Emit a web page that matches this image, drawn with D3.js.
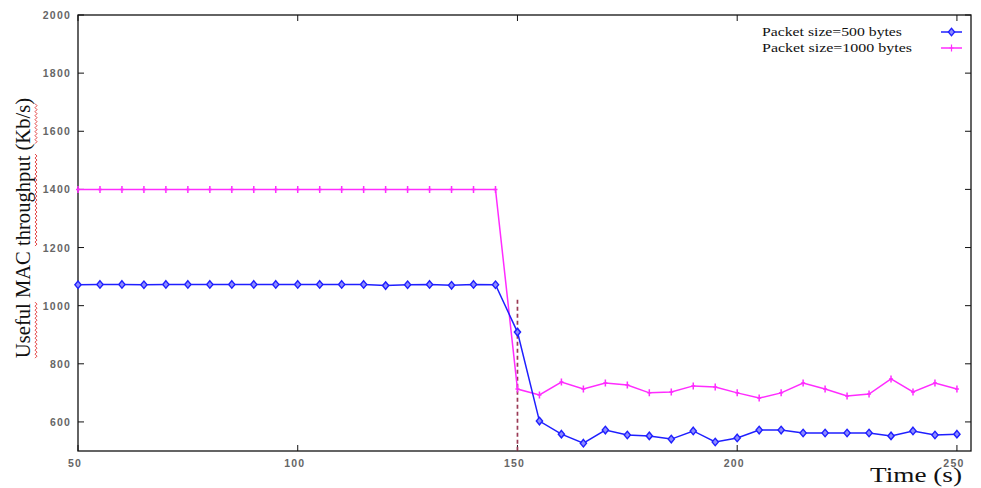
<!DOCTYPE html>
<html>
<head>
<meta charset="utf-8">
<script src="https://cdn.jsdelivr.net/npm/d3@7"></script>
<style>
  body { margin: 0; background: #fff; }
  .tick-label { font-family: "Liberation Sans", Arial, sans-serif; font-size: 10.5px; font-weight: bold; fill: #666; letter-spacing: 1.2px; }
  .serif { font-family: "Liberation Serif", "Times New Roman", serif; fill: #111; }
</style>
</head>
<body>
<div id="chart-area"><svg></svg></div>
<script>
const chartSize = { width: 981, height: 488 };
const frame = { left: 78, right: 971, top: 15, bottom: 451 };

const times = [50, 55, 60, 65, 70, 75, 80, 85, 90, 95, 100, 105, 110, 115, 120, 125, 130, 135, 140, 145,
  150, 155, 160, 165, 170, 175, 180, 185, 190, 195, 200, 205, 210, 215, 220, 225, 230, 235, 240, 245, 250];
const size500 = [1072, 1073, 1073, 1072, 1073, 1073, 1073, 1073, 1073, 1073, 1073, 1073, 1073, 1073, 1069, 1072, 1073, 1070, 1073, 1072,
  909, 603, 558, 527, 572, 555, 552, 541, 569, 531, 545, 572, 572, 562, 562, 562, 562, 552, 569, 555, 558];
const size1000 = [1400, 1400, 1400, 1400, 1400, 1400, 1400, 1400, 1400, 1400, 1400, 1400, 1400, 1400, 1400, 1400, 1400, 1400, 1400, 1400,
  713, 693, 737, 713, 734, 727, 700, 703, 724, 720, 700, 682, 700, 734, 713, 689, 696, 748, 703, 734, 713];
const xTicks = [50, 100, 150, 200, 250];
const yTicks = [600, 800, 1000, 1200, 1400, 1600, 1800, 2000];
const legendLabels = ["Packet size=500 bytes", "Packet size=1000 bytes"];
const cutTime = 150;
const cutTop = 1020;

const blue = "#1f1fff";
const pink = "#ff2cff";

const svg = d3.select("#chart-area svg")
  .attr("width", chartSize.width)
  .attr("height", chartSize.height);

const x = d3.scaleLinear().domain([50, 253.2]).range([frame.left, frame.right]);
const y = d3.scaleLinear().domain([500, 2000]).range([frame.bottom, frame.top]);

// frame box
svg.append("rect")
  .attr("x", frame.left).attr("y", frame.top)
  .attr("width", frame.right - frame.left).attr("height", frame.bottom - frame.top)
  .attr("fill", "none").attr("stroke", "#111").attr("stroke-width", 1.3);

// ticks, gnuplot style: inward and mirrored
const tickLen = 6;
const yt = svg.append("g").attr("class", "y-ticks");
yTicks.forEach(v => {
  yt.append("line").attr("x1", frame.left).attr("x2", frame.left + tickLen)
    .attr("y1", y(v)).attr("y2", y(v)).attr("stroke", "#111");
  yt.append("line").attr("x1", frame.right).attr("x2", frame.right - tickLen)
    .attr("y1", y(v)).attr("y2", y(v)).attr("stroke", "#111");
});
yt.selectAll("text").data(yTicks).enter().append("text")
  .attr("class", "tick-label")
  .attr("x", frame.left - 7)
  .attr("y", d => y(d) + 4)
  .attr("text-anchor", "end")
  .text(d => d);

const xt = svg.append("g").attr("class", "x-ticks");
xTicks.forEach(v => {
  xt.append("line").attr("x1", x(v)).attr("x2", x(v))
    .attr("y1", frame.bottom).attr("y2", frame.bottom - tickLen).attr("stroke", "#111");
  xt.append("line").attr("x1", x(v)).attr("x2", x(v))
    .attr("y1", frame.top).attr("y2", frame.top + tickLen).attr("stroke", "#111");
});
xt.selectAll("text").data(xTicks).enter().append("text")
  .attr("class", "tick-label")
  .attr("x", d => x(d) - 3)
  .attr("y", frame.bottom + 16)
  .attr("text-anchor", "middle")
  .text(d => d);

// dashed marker at the handoff time
svg.append("line")
  .attr("x1", x(cutTime)).attr("x2", x(cutTime))
  .attr("y1", y(cutTop)).attr("y2", frame.bottom)
  .attr("stroke", "#9a3a55").attr("stroke-width", 1.7)
  .attr("stroke-dasharray", "4,3");

// series
const line = d3.line().x((d, i) => x(times[i])).y(d => y(d));
const diamond = d3.symbol().type(d3.symbolDiamond).size(20);
const plus = "M0,-3.5V3.5M-2,0H2";

svg.append("path").attr("d", line(size1000))
  .attr("fill", "none").attr("stroke", pink).attr("stroke-width", 1.5);
svg.append("g").selectAll("path").data(size1000).enter().append("path")
  .attr("transform", (d, i) => `translate(${x(times[i])},${y(d)})`)
  .attr("d", plus).attr("stroke", pink).attr("stroke-width", 1.5);

svg.append("path").attr("d", line(size500))
  .attr("fill", "none").attr("stroke", blue).attr("stroke-width", 1.5);
svg.append("g").selectAll("path").data(size500).enter().append("path")
  .attr("transform", (d, i) => `translate(${x(times[i])},${y(d)}) scale(1.3,0.9)`)
  .attr("d", diamond).attr("fill", "#8c8cff").attr("stroke", blue).attr("stroke-width", 1.2);

// legend
const legend = svg.append("g").attr("class", "legend");
legendLabels.forEach((label, i) => {
  const ly = 32 + i * 16;
  legend.append("text").attr("class", "serif")
    .attr("x", 762).attr("y", ly + 4)
    .attr("font-size", 12.5)
    .attr("textLength", i === 0 ? 140 : 150)
    .attr("lengthAdjust", "spacingAndGlyphs")
    .text(label);
  const col = i === 0 ? blue : pink;
  legend.append("line").attr("x1", 941).attr("x2", 962)
    .attr("y1", ly).attr("y2", ly).attr("stroke", col).attr("stroke-width", 1.5);
  legend.append("path")
    .attr("transform", `translate(951.5,${ly})` + (i === 0 ? " scale(1.3,0.9)" : ""))
    .attr("d", i === 0 ? diamond : plus)
    .attr("fill", i === 0 ? "#8c8cff" : "none")
    .attr("stroke", col).attr("stroke-width", 1.2);
});

// axis titles
svg.append("text").attr("class", "serif")
  .attr("x", 916).attr("y", 482)
  .attr("font-size", 20)
  .attr("text-anchor", "middle")
  .attr("textLength", 92)
  .attr("lengthAdjust", "spacingAndGlyphs")
  .text("Time (s)");

const yl = svg.append("g").attr("transform", "translate(30,228) rotate(-90)");
const yLabel = yl.append("text").attr("class", "serif")
  .attr("font-size", 20.6)
  .attr("text-anchor", "middle")
  .text("Useful MAC throughput (Kb/s)");

// red spell-check squiggles under some words
const txt = "Useful MAC throughput (Kb/s)";
["Useful", "throughput", "Kb/s"].forEach(w => {
  const start = txt.indexOf(w);
  const node = yLabel.node();
  const x0 = node.getStartPositionOfChar(start).x;
  const x1 = node.getEndPositionOfChar(start + w.length - 1).x;
  let d = `M${x0},5`;
  for (let px = x0, k = 0; px < x1; px += 2, k++) {
    d += `L${px + 2},${k % 2 ? 5 : 7}`;
  }
  yl.append("path").attr("d", d).attr("fill", "none")
    .attr("stroke", "#e03030").attr("stroke-width", 0.9);
});
</script>
</body>
</html>
